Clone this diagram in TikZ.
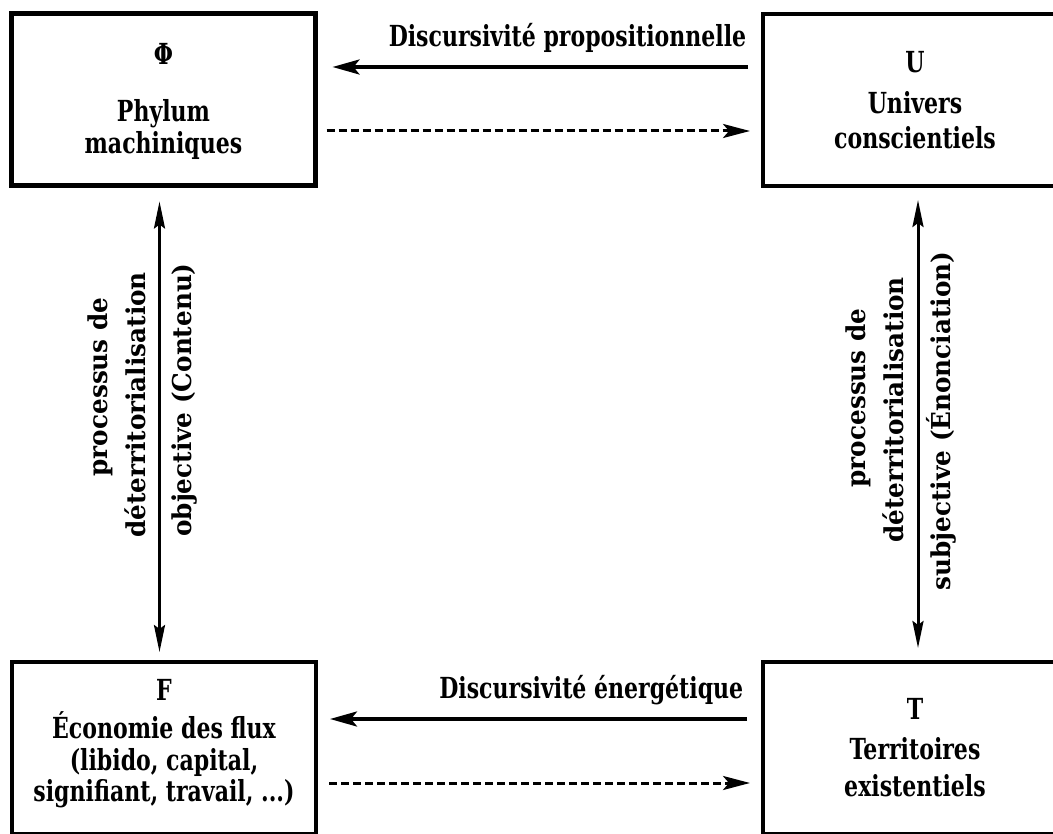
\documentclass[tikz,border=0pt]{standalone}
\usepackage{fontspec}
\newfontfamily\hfont{DejaVu Serif Bold}[FakeStretch=0.76]
\newfontfamily\vfont{DejaVu Serif Bold}[FakeStretch=0.95]
\usetikzlibrary{arrows.meta}
\begin{document}
\begin{tikzpicture}[x=1pt,y=-1pt,
  txt/.style={font=\hfont\fontsize{29}{35}\selectfont},
  box/.style={draw, line width=4.8pt, minimum width=304pt, minimum height=172pt,
    outer sep=0pt, inner sep=0pt},
  boxtext/.style={txt, align=center, inner sep=0pt},
  vlabel/.style={rotate=90, inner sep=0pt, font=\vfont\fontsize{26}{35}\selectfont},
  hlabel/.style={txt, inner sep=0pt, anchor=south east},
  arr/.style={line width=3.5pt, -{Stealth[length=27pt,width=15pt,inset=6pt]}},
  darr/.style={line width=3pt, dash pattern=on 8pt off 4pt, -{Stealth[length=27pt,width=14pt,inset=6pt]}},
  varr/.style={line width=3pt, {Stealth[length=27pt,width=11pt,inset=4pt]}-{Stealth[length=27pt,width=11pt,inset=4pt]}}
]
\useasboundingbox (0,0) rectangle (1053,834);
\fill[white] (0,0) rectangle (1053,834);

\node[box] (Phi) at (163.5,99.5) {};
\node[box] (U) at (915,100) {};
\node[box] (F) at (164,748) {};
\node[box] (T) at (915,748) {};

\node[boxtext] (PhiT) at ([yshift=-2pt]Phi.center) {Φ\\[22pt]Phylum\\[-3pt]machiniques};
\node[boxtext] (UT) at ([yshift=-0.5pt]U.center) {U\\[6pt]Univers\\conscientiels};
\node[boxtext] (FT) at ([yshift=4pt]F.center) {F\\[3pt]Économie des flux\\[-3pt](libido, capital,\\[-4pt]signifiant, travail, ...)};
\node[boxtext] (TT) at (T.center) {T\\[5pt]Territoires\\[2pt]existentiels};

\draw[arr, shorten <=15pt, shorten >=17pt] ([yshift=33pt]U.west) -- ([yshift=33pt]U.west -| Phi.east)
  node[hlabel, at start, xshift=-15pt, yshift=13pt] {Discursivité propositionnelle};
\draw[darr, shorten <=11pt, shorten >=13pt] ([yshift=-31.5pt]Phi.east) -- ([yshift=-31.5pt]Phi.east -| U.west);

\draw[arr, shorten <=16pt, shorten >=14pt] ([yshift=29pt]T.west) -- ([yshift=29pt]T.west -| F.east)
  node[hlabel, at start, xshift=-18pt, yshift=12pt] {Discursivité énergétique};
\draw[darr, shorten <=13pt, shorten >=13pt] ([yshift=-35pt]F.east) -- ([yshift=-35pt]F.east -| T.west);

\draw[varr, shorten <=16pt, shorten >=10pt] ([xshift=-4pt]Phi.south) -- ([xshift=-4pt]Phi.south |- F.north);
\draw[varr, shorten <=14pt, shorten >=14pt] ([xshift=3pt]U.south) -- ([xshift=3pt]U.south |- T.north);

\node[vlabel] (l1a) at (100,387) {processus de};
\node[vlabel] (l1b) at (135,405) {déterritorialisation};
\node[vlabel] (l2) at (185,400) {objective (Contenu)};
\node[vlabel] (r1a) at (858,398) {processus de};
\node[vlabel] (r1b) at (893,410) {déterritorialisation};
\node[vlabel] (r2) at (941,421) {subjective (Énonciation)};
\end{tikzpicture}
\end{document}
